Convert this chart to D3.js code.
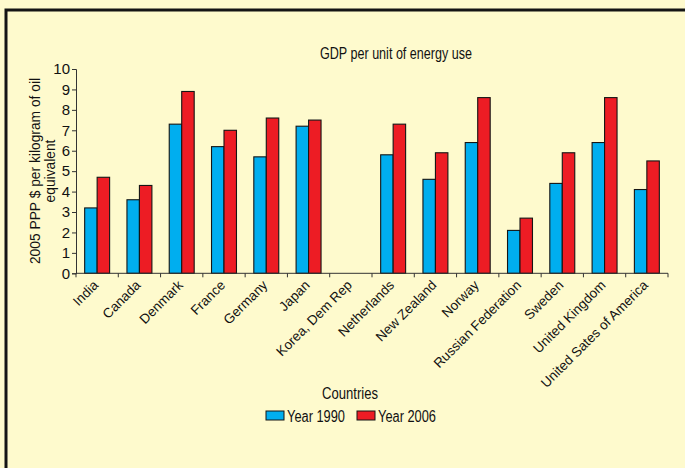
<!DOCTYPE html>
<html><head><meta charset="utf-8">
<script src="https://cdn.jsdelivr.net/npm/d3@7"></script>
<style>
html,body{margin:0;padding:0;background:#FEFACD;}
svg{display:block;}
</style></head>
<body><svg id="c" width="685" height="468"></svg>
<script>
const countries = ["India","Canada","Denmark","France","Germany","Japan","Korea, Dem Rep","Netherlands","New Zealand","Norway","Russian Federation","Sweden","United Kingdom","United Sates of America"];
const year1990 = [3.2,3.6,7.3,6.2,5.7,7.2,null,5.8,4.6,6.4,2.1,4.4,6.4,4.1];
const year2006 = [4.7,4.3,8.9,7.0,7.6,7.5,null,7.3,5.9,8.6,2.7,5.9,8.6,5.5];
const seriesNames = ["Year 1990","Year 2006"];
const yTicks = [0,1,2,3,4,5,6,7,8,9,10];
const colors = ["#00AEEF","#ED1C24"];

const svg = d3.select("#c");
svg.append("rect").attr("width",685).attr("height",468).attr("fill","#FEFACD");
// frame
svg.append("rect").attr("x",6).attr("y",10).attr("width",700).attr("height",480)
  .attr("fill","none").attr("stroke","#141414").attr("stroke-width",3);

const x0 = d3.scaleBand().domain(countries).range([76,668]).paddingInner(0.41).paddingOuter(0.205);
const x1 = d3.scaleBand().domain(seriesNames).range([0,x0.bandwidth()]);
const y = d3.scaleLinear().domain([0,10]).range([273.3,69]);

const sans = "Liberation Sans, Arial, sans-serif";

function condensed(sel, len){
  sel.attr("font-family",sans).attr("textLength",len).attr("lengthAdjust","spacingAndGlyphs");
  return sel;
}

// title
condensed(svg.append("text").attr("x",396).attr("y",58.5).attr("text-anchor","middle")
  .attr("font-size",16).attr("fill","#111")
  .text("GDP per unit of energy use"),152);

// bars
const data = [year1990, year2006];
data.forEach((vals,si)=>{
  svg.append("g").selectAll("rect").data(countries.map((c,i)=>({c,v:vals[i]})).filter(d=>d.v!=null))
    .join("rect")
    .attr("x",d=>x0(d.c)+x1(seriesNames[si]))
    .attr("y",d=>y(d.v))
    .attr("width",x1.bandwidth())
    .attr("height",d=>y(0)-y(d.v))
    .attr("fill",colors[si])
    .attr("stroke","#151515").attr("stroke-width",1.1);
});

// y axis
const ya = svg.append("g").attr("transform","translate(76,0)")
  .call(d3.axisLeft(y).tickValues(yTicks).tickSize(4).tickPadding(2).tickFormat(d3.format("d")));
ya.select(".domain").attr("stroke","#333");
ya.selectAll(".tick line").attr("stroke","#333");
ya.selectAll("text").attr("font-family",sans).attr("font-size",15).attr("fill","#111");

// x axis line with ticks between categories
const xa = svg.append("g").attr("transform","translate(0,273.3)");
xa.append("line").attr("x1",76).attr("x2",668).attr("stroke","#333");
const step = x0.step();
d3.range(countries.length+1).forEach(i=>{
  const xx = 76 + i*step;
  xa.append("line").attr("x1",xx).attr("x2",xx).attr("y1",0).attr("y2",4).attr("stroke","#333");
});
svg.append("g").selectAll("text").data(countries).join("text")
  .attr("transform",d=>`translate(${x0(d)+x0.bandwidth()/2+2},286) rotate(-45)`)
  .attr("text-anchor","end")
  .attr("font-family",sans).attr("font-size",13.5).attr("fill","#111")
  .text(d=>d);

// y label
const yl = svg.append("text").attr("transform","translate(40,171) rotate(-90)")
  .attr("text-anchor","middle").attr("font-family",sans).attr("font-size",13.8).attr("fill","#111");
yl.append("tspan").attr("x",0).attr("dy",0).text("2005 PPP $ per kilogram of oil");
yl.append("tspan").attr("x",0).attr("dy",14.5).text("equivalent");

// x label
condensed(svg.append("text").attr("x",350).attr("y",398.5).attr("text-anchor","middle")
  .attr("font-size",16).attr("fill","#111").text("Countries"),56);

// legend
const lg = svg.append("g");
const legendX = [266, 357];
seriesNames.forEach((s,i)=>{
  lg.append("rect").attr("x",legendX[i]).attr("y",411).attr("width",18).attr("height",9)
    .attr("fill",colors[i]).attr("stroke","#151515").attr("stroke-width",1);
  condensed(lg.append("text").attr("x",legendX[i]+21).attr("y",421.5)
    .attr("font-size",16).attr("fill","#111").text(s),58);
});
</script></body></html>
